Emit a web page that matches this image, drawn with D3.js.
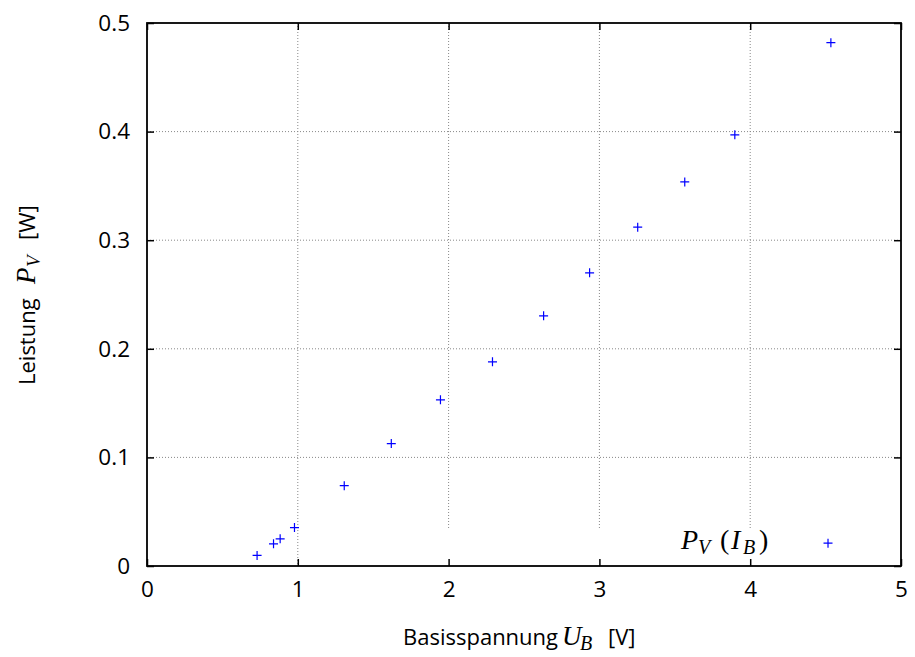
<!DOCTYPE html>
<html lang="de">
<head>
<meta charset="UTF-8">
<title>Leistung</title>
<script src="https://d3js.org/d3.v7.min.js"></script>
<style>
  body { margin: 0; background: #fff; }
  svg text { font-family: "Open Sans", "DejaVu Sans", sans-serif; }
  .math { font-family: "Liberation Serif", "DejaVu Serif", serif; font-style: italic; }
</style>
</head>
<body>
<div id="plot"></div>
<script>
"use strict";

// messwerte
let uB = [0.730, 0.839, 0.883, 0.978, 1.308, 1.620, 1.946, 2.291, 2.630, 2.935, 3.254, 3.566, 3.898, 4.535];
let pV = [0.0097, 0.0204, 0.025, 0.0354, 0.074, 0.1127, 0.153, 0.188, 0.2304, 0.270, 0.312, 0.3537, 0.397, 0.4819];
let xTicks = [0, 1, 2, 3, 4, 5];
let yTicks = [0, 0.1, 0.2, 0.3, 0.4, 0.5];

let svgWidth = 915, svgHeight = 657;
let margin = {top: 23, right: 14, bottom: 91, left: 147};
let width = svgWidth - margin.left - margin.right;
let height = svgHeight - margin.top - margin.bottom;

function translate(x, y) { return 'translate(' + x + ', ' + y + ')'; }

let x = d3.scaleLinear().domain([0, 5]).range([0, width]);
let y = d3.scaleLinear().domain([0, 0.5]).range([height, 0]);

let svg = d3.select('#plot').append('svg')
    .attr('width', svgWidth)
    .attr('height', svgHeight)
  .append('g')
    .attr('transform', translate(margin.left, margin.top));

// gitter (unten frei fuer die legende)
let keyTop = y(0.035);
svg.selectAll('.vgrid')
  .data(xTicks.slice(1, -1))
  .enter().append('line')
    .attr('x1', d => x(d)).attr('x2', d => x(d))
    .attr('y1', 0)
    .attr('y2', d => d >= 2 ? keyTop : height)
    .attr('stroke', '#888').attr('stroke-width', 1)
    .attr('stroke-dasharray', '1,2');
svg.selectAll('.hgrid')
  .data(yTicks.slice(1, -1))
  .enter().append('line')
    .attr('x1', 0).attr('x2', width)
    .attr('y1', d => y(d)).attr('y2', d => y(d))
    .attr('stroke', '#888').attr('stroke-width', 1)
    .attr('stroke-dasharray', '1,2');

// achsen mit ticks nach innen
let fmtY = d => d === 0 ? '0' : d3.format('.1f')(d);
function styleAxis(g) {
  g.select('.domain').remove();
  g.selectAll('.tick line').attr('stroke', '#000').attr('stroke-width', 1.5);
  g.selectAll('.tick text').attr('font-size', 22.5).attr('fill', '#000')
    .attr('font-family', '"Open Sans", "DejaVu Sans", sans-serif');
}
svg.append('g').attr('transform', translate(0, height))
  .call(d3.axisBottom(x).tickValues(xTicks).tickFormat(d3.format('d')).tickSize(-7).tickPadding(15))
  .call(styleAxis);
svg.append('g')
  .call(d3.axisTop(x).tickValues(xTicks).tickSize(-7).tickFormat(''))
  .call(styleAxis);
svg.append('g')
  .call(d3.axisLeft(y).tickValues(yTicks).tickFormat(fmtY).tickSize(-7).tickPadding(17))
  .call(styleAxis);
svg.append('g').attr('transform', translate(width, 0))
  .call(d3.axisRight(y).tickValues(yTicks).tickSize(-7).tickFormat(''))
  .call(styleAxis);

svg.append('rect')
  .attr('width', width).attr('height', height)
  .attr('fill', 'none').attr('stroke', '#000').attr('stroke-width', 1.8);

// punkte
let data = uB.map((u, i) => ({u: u, p: pV[i]}));
function drawPlus(sel, cx, cy) {
  sel.append('path')
    .attr('d', 'M' + (cx - 4.5) + ',' + cy + 'H' + (cx + 4.5) + 'M' + cx + ',' + (cy - 4.5) + 'V' + (cy + 4.5))
    .attr('stroke', '#0000ff').attr('stroke-width', 1.2).attr('fill', 'none');
}
data.forEach(d => drawPlus(svg, x(d.u), y(d.p)));

// legende
let keyY = y(0.021) + 6;
let key = svg.append('text').attr('class', 'math')
  .attr('y', keyY).attr('font-size', 28).attr('fill', '#000');
key.append('tspan').attr('x', 534).text('P');
key.append('tspan').attr('x', 551).attr('dy', 5).attr('font-size', 20).text('V');
key.append('tspan').attr('x', 573).attr('dy', -5).attr('font-style', 'normal').text('(');
key.append('tspan').attr('x', 584).text('I');
key.append('tspan').attr('x', 596).attr('dy', 5).attr('font-size', 20).text('B');
key.append('tspan').attr('x', 612).attr('dy', -5).attr('font-style', 'normal').text(')');
drawPlus(svg, x(4.516), y(0.021));

// achsentitel
let xt = svg.append('text')
  .attr('y', height + 79).attr('font-size', 22).attr('fill', '#000');
xt.append('tspan').attr('x', 256).text('Basisspannung');
xt.append('tspan').attr('x', 415).attr('class', 'math').attr('font-size', 27).text('U');
xt.append('tspan').attr('x', 433).attr('dy', 5).attr('class', 'math').attr('font-size', 20).text('B');
xt.append('tspan').attr('x', 461).attr('dy', -5).text('[V]');

let yt = svg.append('text')
  .attr('transform', translate(-112, 362) + ' rotate(-90)')
  .attr('font-size', 22).attr('fill', '#000');
yt.append('tspan').attr('x', 0).text('Leistung');
yt.append('tspan').attr('x', 101).attr('class', 'math').attr('font-size', 27).text('P');
yt.append('tspan').attr('x', 118).attr('dy', 5).attr('class', 'math').attr('font-size', 19).text('V');
yt.append('tspan').attr('x', 145).attr('dy', -5).text('[W]');
</script>
</body>
</html>
